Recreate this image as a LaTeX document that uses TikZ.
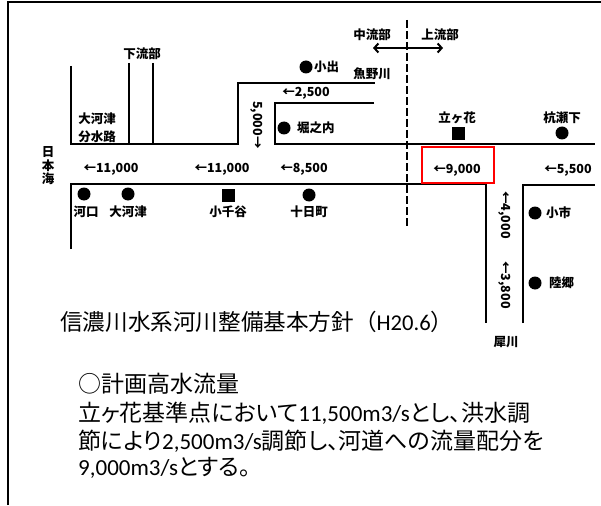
\documentclass[tikz,border=0pt]{standalone}
\usepackage{fontspec}
\newfontfamily\jp{Noto Sans CJK JP}
\newfontfamily\jpp[RawFeature=+palt]{Noto Sans CJK JP}
\newfontfamily\latf{Carlito}
\newcommand{\latn}[1]{{\latf #1}}
\usetikzlibrary{arrows.meta}
\tikzset{
  lbl/.style={font=\jp\bfseries\fontsize{12.5}{13}\selectfont, inner sep=0pt},
  big/.style={font=\jpp\fontsize{23}{24}\selectfont, inner sep=0pt, anchor=west},
  riv/.style={line width=1.2pt},
  rivb/.style={line width=1.8pt},
  frame/.style={line width=2pt},
  dotm/.style={circle, fill=black, inner sep=0pt, minimum size=13pt},
  sqm/.style={rectangle, fill=black, inner sep=0pt, minimum size=13pt},
  redbox/.style={draw=red, line width=1.6pt, inner sep=0pt, minimum width=72pt, minimum height=36pt},
  divider/.style={line width=1.3pt, dash pattern=on 8pt off 3pt},
  dbl/.style={line width=2pt, {Straight Barb[length=4pt,width=9pt]}-{Straight Barb[length=4pt,width=9pt]}}
}
\begin{document}
\begin{tikzpicture}[x=1pt,y=-1pt]
\useasboundingbox (0,0) rectangle (601,505);
% frame
\draw[frame] (8,505) -- (8,2) -- (601,2);
% ---- river outlines ----
\draw[riv] (71,66) -- (71,144) -- (238,144) -- (238,83) -- (375,83);
\draw[riv] (129,63) -- (129,144);
\draw[rivb] (153,63) -- (153,144);
\draw[riv] (374,103) -- (275,103) -- (275,144) -- (595,144);
\draw[rivb] (71,249) -- (71,184) -- (486,184) -- (486,323);
\draw[rivb] (523,323) -- (523,185) -- (595,185);
% divider
\draw[divider] (407,20) -- (407,228);
% middle / upper arrows
\node[lbl] (chu) at (372,35) {中流部};
\node[lbl] (jou) at (440,35) {上流部};
\coordinate (al) at (373,48);
\coordinate (ar) at (443,48);
\draw[dbl] (al) -- (ar);
% labels
\node[lbl] (karyu) at (142,54) {下流部};
\node[lbl] (oko1) at (97,119) {大河津};
\node[lbl] (oko2) at (97,137) {分水路};
\node[lbl, align=center, font=\jp\bfseries\fontsize{12.5}{13.5}\selectfont] (nihonkai) at (48,166) {日\\本\\海};
% Koide
\node[dotm] (koided) at (306,67) {};
\node[lbl, anchor=west] (koide) at (314,67) {小出};
\node[lbl] (uono) at (372,74) {魚野川};
\node[lbl] (q2500) at (306,93) {←2,500};
\node[lbl, rotate=-90] (q5000) at (257,125) {5,000→};
\node[dotm] (horid) at (284,128) {};
\node[lbl, anchor=west] (hori) at (297,128) {堀之内};
% flows
\node[lbl] (q11a) at (111,169) {←11,000};
\node[lbl] (q11b) at (222,169) {←11,000};
\node[lbl] (q8500) at (304,169) {←8,500};
\node[redbox] (rb) at (458,165) {};
\node[lbl] (q9000) at (457,170) {←9,000};
\node[lbl] (q5500) at (568,170) {←5,500};
% stations lower
\node[dotm] (kakod) at (84,194) {};
\node[lbl] (kako) at (86,212) {河口};
\node[dotm] (okod) at (128,194) {};
\node[lbl] (oko) at (128,212) {大河津};
\node[sqm] (ojisq) at (228,195) {};
\node[lbl] (oji) at (228,212) {小千谷};
\node[dotm] (tokad) at (309,195) {};
\node[lbl] (toka) at (309,212) {十日町};
% upper stations
\node[lbl] (tate) at (457,118) {立ヶ花};
\node[sqm] (tatesq) at (458,134) {};
\node[lbl] (kui) at (562,118) {杭瀬下};
\node[dotm] (kuid) at (562,133) {};
% Saigawa
\node[dotm] (oichid) at (535,213) {};
\node[lbl, anchor=west] (oichi) at (546,213) {小市};
\node[dotm] (rikud) at (535,283) {};
\node[lbl, anchor=west] (riku) at (549,283) {陸郷};
\node[lbl, rotate=-90] (q4000) at (505,215) {←4,000};
\node[lbl, rotate=-90] (q3800) at (505,285) {←3,800};
\node[lbl] (sai) at (506,342) {犀川};
% texts
\node[big, font=\jp\fontsize{22.6}{24}\selectfont] (title) at (60,322) {信濃川水系河川整備基本方針（\latn{H20.6}）};
\node[big] (b1) at (78,384) {○計画高水流量};
\node[big] (b2) at (78,413) {立ヶ花基準点において\latn{11,500m3/s}とし、洪水調};
\node[big] (b3) at (78,441) {節により\latn{2,500m3/s}調節し、河道への流量配分を};
\node[big] (b4) at (78,468) {\latn{9,000m3/s}とする。};
\end{tikzpicture}
\end{document}
